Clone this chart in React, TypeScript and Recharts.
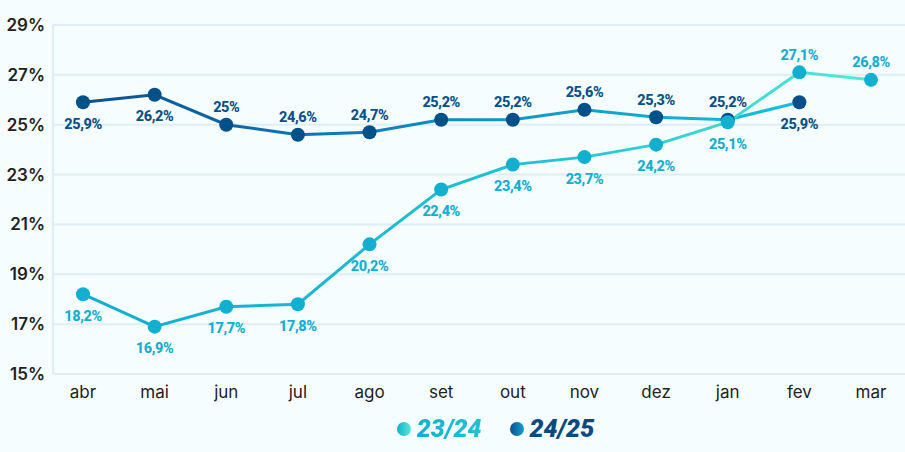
import React from "react";
import { LineChart, Line, XAxis, YAxis, CartesianGrid, LabelList, Legend } from "recharts";

const months = ["abr", "mai", "jun", "jul", "ago", "set", "out", "nov", "dez", "jan", "fev", "mar"];
const s2324 = [18.2, 16.9, 17.7, 17.8, 20.2, 22.4, 23.4, 23.7, 24.2, 25.1, 27.1, 26.8];
const s2425: (number | null)[] = [25.9, 26.2, 25.0, 24.6, 24.7, 25.2, 25.2, 25.6, 25.3, 25.2, 25.9, null];
const yTicks = [15, 17, 19, 21, 23, 25, 27, 29];
const seriesNames = ["23/24", "24/25"];

const data = months.map((m, i) => ({ month: m, a: s2324[i], b: s2425[i] }));

const fmt = (v: number) => v.toFixed(1).replace(/\.0$/, "").replace(".", ",") + "%";

const BELOW_B = new Set([0, 1, 10]);
const ABOVE_A = new Set([10, 11]);

const makeLabel = (series: "a" | "b", color: string) => (props: any) => {
  const { x, y, value, index } = props;
  if (value == null) return null;
  let below: boolean;
  if (series === "b") below = BELOW_B.has(index);
  else below = !ABOVE_A.has(index);
  const dy = below ? 22 : -17;
  return (
    <text
      x={x}
      y={y + dy}
      textAnchor="middle"
      dominantBaseline="central"
      fill={color}
      fontFamily="Roboto, sans-serif"
      fontWeight={800}
      fontSize={14.5}
      letterSpacing={-0.4}
    >
      {fmt(value)}
    </text>
  );
};

const LegendContent = () => (
  <div
    style={{
      display: "flex",
      justifyContent: "center",
      alignItems: "center",
      marginLeft: 86,
      fontFamily: "Roboto, sans-serif",
      fontWeight: 900,
      fontStyle: "italic",
      fontSize: 25,
      gap: 12,
    }}
  >
    <span style={{ display: "flex", alignItems: "center", gap: 6 }}>
      <span style={{ width: 14, height: 14, borderRadius: 7, background: "linear-gradient(90deg,#12b0d0,#5ae8d4)", display: "inline-block" }} />
      <span style={{ background: "linear-gradient(90deg,#12b0d0,#20c0d4)", WebkitBackgroundClip: "text", backgroundClip: "text", color: "transparent" }}>{seriesNames[0]}</span>
    </span>
    <span style={{ display: "flex", alignItems: "center", gap: 6, marginLeft: 16 }}>
      <span style={{ width: 14, height: 14, borderRadius: 7, background: "linear-gradient(90deg,#0a4f8c,#14a0d0)", display: "inline-block" }} />
      <span style={{ color: "#0a4a80" }}>{seriesNames[1]}</span>
    </span>
  </div>
);

export default function App() {
  return (
    <div style={{ position: "absolute", left: 0, top: 0, width: 905, height: 452, background: "#f5fdfe" }}>
      <LineChart width={905} height={452} data={data} margin={{ top: 25, right: 0, left: 0, bottom: 0 }}>
        <defs>
          <linearGradient id="gA" x1="0" y1="0" x2="1" y2="0">
            <stop offset="0%" stopColor="#12acd0" />
            <stop offset="60%" stopColor="#22c4d2" />
            <stop offset="100%" stopColor="#55ead5" />
          </linearGradient>
          <linearGradient id="gB" x1="0" y1="0" x2="1" y2="0">
            <stop offset="0%" stopColor="#0b4f8f" />
            <stop offset="45%" stopColor="#0f86c0" />
            <stop offset="100%" stopColor="#16c0dc" />
          </linearGradient>
        </defs>
        <CartesianGrid vertical={false} stroke="#dfeef6" strokeWidth={2} />
        <XAxis
          dataKey="month"
          axisLine={false}
          tickLine={false}
          tickSize={0}
          tickMargin={12}
          height={40}
          padding={{ left: 30, right: 34 }}
          tick={{ fill: "#222", fontSize: 17, fontFamily: "Inter, sans-serif" }}
          interval={0}
        />
        <YAxis
          domain={[15, 29]}
          ticks={yTicks}
          width={53}
          axisLine={{ stroke: "#dfeef6", strokeWidth: 2 }}
          tickLine={false}
          tickSize={0}
          tickMargin={8}
          tickFormatter={(v: number) => `${v}%`}
          tick={{ fill: "#222", fontSize: 17, fontWeight: 600, fontFamily: "Inter, sans-serif" }}
        />
        <Legend verticalAlign="bottom" height={38} content={<LegendContent />} />
        <Line
          dataKey="b"
          name={seriesNames[1]}
          stroke="url(#gB)"
          strokeWidth={3}
          dot={{ r: 7, fill: "#00508a", stroke: "none" }}
          activeDot={false}
          isAnimationActive={false}
        >
          <LabelList dataKey="b" content={makeLabel("b", "#0a5088")} />
        </Line>
        <Line
          dataKey="a"
          name={seriesNames[0]}
          stroke="url(#gA)"
          strokeWidth={3}
          dot={{ r: 7, fill: "#12b0d0", stroke: "none" }}
          activeDot={false}
          isAnimationActive={false}
        >
          <LabelList dataKey="a" content={makeLabel("a", "#14aed0")} />
        </Line>
      </LineChart>
    </div>
  );
}
